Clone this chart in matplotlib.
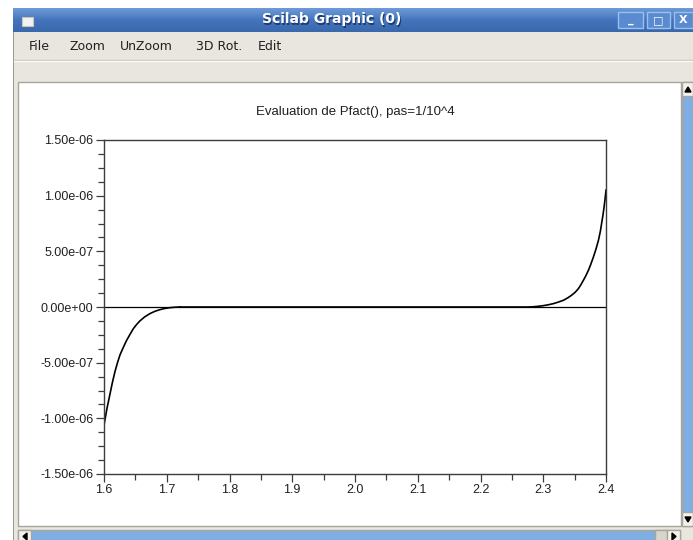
import numpy as np
import matplotlib.pyplot as plt
from matplotlib.patches import Rectangle, Polygon
from matplotlib.ticker import MultipleLocator, FormatStrFormatter

# values
plot_title = "Evaluation de Pfact(), pas=1/10^4"
window_title = "Scilab Graphic (0)"
menu_items = ["File", "Zoom", "UnZoom", "3D Rot.", "Edit"]

x_left = [1.6, 1.6048, 1.6096, 1.6135, 1.6175, 1.6215, 1.6255, 1.631, 1.636, 1.6415,
          1.6467, 1.652, 1.657, 1.665, 1.673, 1.681, 1.689, 1.697, 1.705, 1.713, 1.721]
y_left = [-1.06e-6, -9.1e-7, -7.8e-7, -6.75e-7, -5.8e-7, -5.0e-7, -4.3e-7, -3.6e-7, -3.0e-7, -2.45e-7,
          -1.95e-7, -1.57e-7, -1.26e-7, -8.8e-8, -6e-8, -3.9e-8, -2.4e-8, -1.3e-8, -6e-9, -2e-9, 0.0]
x_flat = [1.721, 2.279]
y_flat = [0.0, 0.0]
x_right = [2.279, 2.290, 2.300, 2.308, 2.316, 2.324, 2.332, 2.339, 2.345, 2.351, 2.356, 2.360,
           2.364, 2.368, 2.372, 2.376, 2.380, 2.384, 2.388, 2.391, 2.393, 2.395, 2.397, 2.3985, 2.4]
y_right = [0.0, 5e-9, 1.2e-8, 2e-8, 3e-8, 4.4e-8, 6e-8, 8.2e-8, 1.05e-7, 1.33e-7, 1.65e-7, 2.0e-7,
           2.4e-7, 2.82e-7, 3.3e-7, 3.87e-7, 4.5e-7, 5.2e-7, 6.0e-7, 6.8e-7, 7.5e-7, 8.2e-7, 9.0e-7, 9.7e-7, 1.05e-6]

x_ticks = [1.6, 1.7, 1.8, 1.9, 2.0, 2.1, 2.2, 2.3, 2.4]
y_ticks = [-1.5e-6, -1.0e-6, -5.0e-7, 0.0, 5.0e-7, 1.0e-6, 1.5e-6]

W, H = 693, 540
fig = plt.figure(figsize=(W / 100, H / 100), dpi=100)
fig.patch.set_facecolor('white')

# ---- window chrome, drawn in pixel coords on a background axes
bg = fig.add_axes([0, 0, 1, 1])
bg.set_xlim(0, W)
bg.set_ylim(H, 0)
bg.axis('off')

grey = '#e8e6df'
bg.add_patch(Rectangle((13, 8), W - 13, H - 8, facecolor=grey, edgecolor='none'))
bg.add_patch(Rectangle((13, 8), 1, H - 8, facecolor='#9a9890', edgecolor='none'))

# title bar gradient
grad = np.linspace(0, 1, 24).reshape(-1, 1)
cmap = plt.matplotlib.colors.LinearSegmentedColormap.from_list('tb', ['#6d9ad6', '#4474bd', '#3a68ad'])
bg.imshow(grad, cmap=cmap, extent=(13, W, 32, 8), aspect='auto', zorder=1)
bg.add_patch(Rectangle((22, 17), 11, 9, facecolor='#f4f2ee', edgecolor='#c8c4bc', lw=0.8, zorder=2))
bg.text(333, 20.5, window_title, color='#1c3c70', fontsize=10, fontweight='bold',
        ha='center', va='center', zorder=2)
bg.text(332, 19.5, window_title, color='white', fontsize=10, fontweight='bold',
        ha='center', va='center', zorder=3)

for bx, bw, sym in [(618, 25, '_'), (647, 23, '□'), (674, 19, 'X')]:
    bg.add_patch(Rectangle((bx, 12), bw, 16, facecolor='#5a8bd0', edgecolor='#9cc0ec',
                           lw=1, zorder=2))
    bg.text(bx + bw / 2, 20, sym, color='white', fontsize=8, fontweight='bold',
            ha='center', va='center', zorder=3)

# menu bar
menu_x = [29, 69, 120, 196, 258]
for mx, label in zip(menu_x, menu_items):
    bg.text(mx, 46, label, fontsize=9, color='#202020', ha='left', va='center')
bg.plot([14, W], [59.5, 59.5], color='#c9c5bb', lw=1)
bg.plot([14, W], [60.5, 60.5], color='#fbfaf7', lw=1)

# canvas
bg.add_patch(Rectangle((18, 82), 663, 444, facecolor='white', edgecolor='#a8a59d', lw=1))

# right scrollbar
bg.add_patch(Rectangle((682, 82), 11, 444, facecolor='#7eaee2', edgecolor='#a8a59d', lw=1))
bg.add_patch(Rectangle((682, 82), 11, 14, facecolor='#f3f1ec', edgecolor='#a8a59d', lw=1))
bg.add_patch(Polygon([[685, 92], [691, 92], [688, 87]], closed=True, color='black'))
bg.add_patch(Rectangle((682, 512), 11, 14, facecolor='#f3f1ec', edgecolor='#a8a59d', lw=1))
bg.add_patch(Polygon([[685, 517], [691, 517], [688, 522]], closed=True, color='black'))

# bottom scrollbar
bg.add_patch(Rectangle((18, 530), 662, 12, facecolor='#7eaee2', edgecolor='#a8a59d', lw=1))
bg.add_patch(Rectangle((18, 530), 13, 12, facecolor='#f3f1ec', edgecolor='#a8a59d', lw=1))
bg.add_patch(Polygon([[27, 533], [27, 540], [23, 536.5]], closed=True, color='black'))
bg.add_patch(Rectangle((655, 530), 12, 12, facecolor='#d8d5cd', edgecolor='#a8a59d', lw=1))
bg.add_patch(Rectangle((667, 530), 13, 12, facecolor='#f3f1ec', edgecolor='#a8a59d', lw=1))
bg.add_patch(Polygon([[672, 533], [672, 540], [676, 536.5]], closed=True, color='black'))

# ---- the plot itself
ax = fig.add_axes([104 / W, 1 - 474 / H, 502 / W, 334 / H])
ax.set_facecolor('none')
ax.plot(x_left, y_left, color='black', lw=1.2)
ax.plot(x_flat, y_flat, color='black', lw=1.2)
ax.plot(x_right, y_right, color='black', lw=1.2)
ax.axhline(0, color='black', lw=0.9)

ax.set_xlim(1.6, 2.4)
ax.set_ylim(-1.5e-6, 1.5e-6)
ax.set_xticks(x_ticks)
ax.set_yticks(y_ticks)
ax.xaxis.set_minor_locator(MultipleLocator(0.05))
ax.yaxis.set_minor_locator(MultipleLocator(1.25e-7))
ax.xaxis.set_major_formatter(FormatStrFormatter('%.1f'))
ax.yaxis.set_major_formatter(FormatStrFormatter('%.2e'))

for sp in ax.spines.values():
    sp.set_color('#3c3c3c')
    sp.set_linewidth(1)

ax.tick_params(axis='both', which='both', direction='out', colors='#3c3c3c',
               labelcolor='#202020', labelsize=9, width=0.9)
ax.tick_params(axis='both', which='major', length=6, pad=1.5)
ax.tick_params(axis='both', which='minor', length=4)
for lab in ax.get_xticklabels() + ax.get_yticklabels():
    lab.set_family('Liberation Sans')

ax.set_title(plot_title, fontsize=9.5, family='Liberation Sans', color='#202020', pad=18)

fig.savefig('out.png', dpi=100)
